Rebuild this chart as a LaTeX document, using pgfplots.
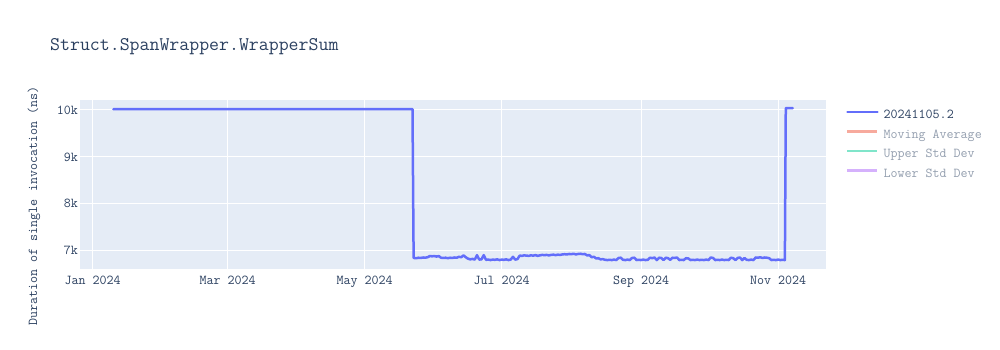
\documentclass[border=0pt]{standalone}
\usepackage{pgfplots}
\pgfplotsset{compat=1.18}
\usepackage{pgfplotstable}
\usepackage{fontspec}
\renewcommand{\familydefault}{\ttdefault}
\definecolor{plotbg}{HTML}{E5ECF6}
\definecolor{txt}{HTML}{2A3F5F}
\definecolor{ser}{HTML}{636EFA}
\definecolor{fadeA}{HTML}{F7AA9D}
\definecolor{fadeB}{HTML}{80E5CA}
\definecolor{fadeC}{HTML}{D5B1FC}
\definecolor{fadetxt}{HTML}{949FAF}

\pgfplotstableread{
d v
9.2 10018
15 10020
22 10017
30 10020
40 10019
50 10016
60 10018
70 10020
80 10017
90 10019
100 10020
110 10018
120 10017
130 10019
138 10020
142.3 10018
142.8 6845
144 6840
145 6850
146 6845
147 6855
148 6850
149 6860
150 6885
151 6880
152 6885
153 6875
154 6885
155 6850
156 6845
157 6850
158 6840
159 6850
160 6845
161 6855
162 6850
163 6870
164 6860
165 6900
166 6860
167 6830
168 6815
169 6825
170 6810
171 6905
172 6810
173 6815
174 6905
175 6805
176 6810
177 6800
178 6810
179 6805
180 6815
181 6800
182 6810
183 6805
184 6815
185 6800
186 6810
187 6870
188 6810
189 6820
190 6895
191 6890
192 6900
193 6895
194 6890
195 6900
196 6895
197 6905
198 6890
199 6900
200 6910
201 6905
202 6910
203 6900
204 6910
205 6915
206 6905
207 6915
208 6910
209 6920
210 6925
211 6920
212 6930
213 6925
214 6935
215 6920
216 6930
217 6935
218 6925
219 6930
220 6900
221 6905
222 6860
223 6870
224 6835
225 6840
226 6815
227 6820
228 6805
229 6800
230 6805
231 6800
232 6810
233 6800
234 6845
235 6850
236 6805
237 6800
238 6810
239 6800
240 6845
241 6850
242 6800
243 6805
244 6800
245 6810
246 6800
247 6805
248 6850
249 6840
250 6855
251 6800
252 6850
253 6845
254 6800
255 6850
256 6840
257 6805
258 6850
259 6845
260 6855
261 6800
262 6805
263 6800
264 6840
265 6835
266 6800
267 6805
268 6800
269 6810
270 6800
271 6805
272 6800
273 6810
274 6800
275 6855
276 6845
277 6800
278 6805
279 6800
280 6810
281 6800
282 6805
283 6800
284 6850
285 6840
286 6800
287 6845
288 6855
289 6800
290 6845
291 6805
292 6800
293 6810
294 6800
295 6855
296 6850
297 6860
298 6845
299 6855
300 6850
301 6840
302 6800
303 6805
304 6800
305 6810
306 6800
307 6805
308 6800
308.4 10040
311.5 10040
}\data

\begin{document}
\begin{tikzpicture}[x=1pt,y=1pt]
\path[use as bounding box] (0,0) rectangle (1000,-350);
\node[anchor=base west, inner sep=0pt, text=txt, font=\fontsize{19.3}{22}\selectfont] at (50,-51) {Struct.SpanWrapper.WrapperSum};
\node[rotate=90, inner sep=0pt, text=txt, font=\fontsize{13.6}{16}\selectfont] at (34,-206) {Duration of single invocation (ns)};
\begin{axis}[
  at={(80pt,-269.3pt)}, anchor=south west,
  scale only axis, width=746pt, height=169.3pt,
  xmin=-5.65, xmax=326.3, ymin=6603, ymax=10213,
  scaled y ticks=false,
  axis background/.style={fill=plotbg},
  axis line style={draw=none},
  major tick length=0pt,
  grid=major, major grid style={white, line width=1pt},
  xtick={0,60,121,182,244,305},
  xticklabels={Jan 2024, Mar 2024, May 2024, Jul 2024, Sep 2024, Nov 2024},
  ytick={7000,8000,9000,10000},
  yticklabels={7k,8k,9k,10k},
  tick label style={font=\fontsize{13.6}{16}\selectfont, text=txt},
  xticklabel style={anchor=base, inner sep=0pt, yshift=-15pt},
  yticklabel style={anchor=east, inner sep=0pt, xshift=-2pt},
  legend style={at={(1.02681,0.945)}, anchor=north west, draw=none, fill=none,
    font=\fontsize{13.6}{16}\selectfont, text=txt, row sep=7.5pt, column sep=5pt, inner sep=0pt,
    nodes={inner sep=0pt, text height=9pt, text depth=3pt}},
  legend image code/.code={\draw[#1] (0pt,3.5pt) -- (30pt,3.5pt);},
  legend cell align=left,
]
\addplot[ser, line width=2.5pt, line join=round, line cap=round] table[x=d, y=v] {\data};
\addlegendentry{20241105.2}
\addlegendimage{fadeA, line width=2.2pt}
\addlegendentry{\textcolor{fadetxt}{Moving Average}}
\addlegendimage{fadeB, line width=2.2pt}
\addlegendentry{\textcolor{fadetxt}{Upper Std Dev}}
\addlegendimage{fadeC, line width=2.2pt}
\addlegendentry{\textcolor{fadetxt}{Lower Std Dev}}
\end{axis}
\end{tikzpicture}
\end{document}
